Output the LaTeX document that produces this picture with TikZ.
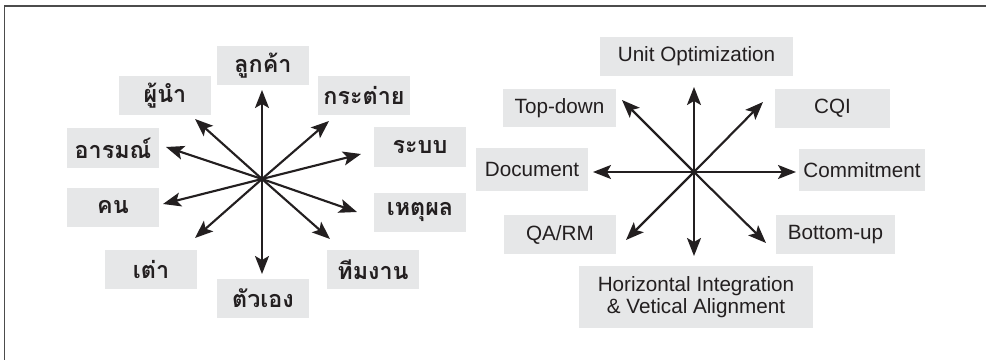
\documentclass[tikz,border=0pt]{standalone}
\usepackage{fontspec}
\setmainfont{Liberation Sans}
\newfontfamily\thaifont[Script=Thai]{Loma}
\usetikzlibrary{arrows.meta}
\definecolor{boxgray}{HTML}{E6E7E8}
\definecolor{ink}{HTML}{231F20}
\tikzset{
  lbl/.style={fill=boxgray, inner sep=0pt, text=ink, align=center, font=\fontsize{15.5pt}{18pt}\selectfont},
  thlbl/.style={lbl, minimum width=69pt, minimum height=29.25pt, font=\thaifont\bfseries\fontsize{17.5pt}{18pt}\selectfont},
  spoke/.style={draw=ink, line width=1.6pt, -{Stealth[length=13.5pt, width=10.5pt, inset=3pt]}},
  frameline/.style={draw=black!70, line width=1.4pt}
}
\begin{document}
\begin{tikzpicture}[x=0.75pt, y=-0.75pt]
\useasboundingbox (0,0) rectangle (986,360);
% frame (top and left only)
\coordinate (fTL) at (4.5,6);
\coordinate (fTR) at (986,6);
\coordinate (fBL) at (4.5,360);
\draw[frameline] (fBL) -- (fTL) -- (fTR);

% ---------- left wheel ----------
\coordinate (LC) at (262,179);
\node[thlbl] (t1) at (263,65.5) {ลูกค้า};
\node[thlbl] (t2) at (165,95.5) {ผู้นำ};
\node[thlbl] (t3) at (364,95.5) {กระต่าย};
\node[thlbl] (t4) at (113,148) {อารมณ์};
\node[thlbl] (t5) at (420,147) {ระบบ};
\node[thlbl] (t6) at (113,207) {คน};
\node[thlbl] (t7) at (420,212) {เหตุผล};
\node[thlbl] (t8) at (151,269.5) {เต่า};
\node[thlbl] (t9) at (373,269.5) {ทีมงาน};
\node[thlbl] (t10) at (263,298.5) {ตัวเอง};

\coordinate (a1) at (262,90);
\coordinate (a2) at (195,119);
\coordinate (a3) at (329,121);
\coordinate (a4) at (166,147);
\coordinate (a5) at (361,154);
\coordinate (a6) at (163,204);
\coordinate (a7) at (357,212);
\coordinate (a8) at (195,238);
\coordinate (a9) at (330,239);
\coordinate (a10) at (262,274);
\foreach \i in {1,...,10} {\draw[spoke] (LC) -- (a\i);}

% ---------- right wheel ----------
\coordinate (RC) at (694,172);
\node[lbl, minimum width=144.75pt, minimum height=29.25pt] (r1) at (696.5,56.5) {Unit Optimization};
\node[lbl, minimum width=84.75pt, minimum height=28.5pt] (r2) at (559.5,108) {Top-down};
\node[lbl, minimum width=86.25pt, minimum height=29.25pt] (r3) at (832.5,108.5) {CQI};
\node[lbl, minimum width=84pt, minimum height=32.25pt] (r4) at (532,169.5) {Document};
\node[lbl, minimum width=94.5pt, minimum height=31.5pt] (r5) at (862,170) {Commitment};
\node[lbl, minimum width=84pt, minimum height=29.25pt] (r6) at (560,234.5) {QA/RM};
\node[lbl, minimum width=89.25pt, minimum height=29.25pt] (r7) at (835.5,234.5) {Bottom-up};
\node[lbl, minimum width=175.5pt, minimum height=46.5pt, font=\fontsize{15.5pt}{17pt}\selectfont] (r8) at (696,297) {Horizontal Integration\\\& Vetical Alignment};

\coordinate (b1) at (694,87);
\coordinate (b2) at (622,100);
\coordinate (b3) at (763,102);
\coordinate (b4) at (593,172);
\coordinate (b5) at (796,172);
\coordinate (b6) at (626,240);
\coordinate (b7) at (766,243);
\coordinate (b8) at (694,256);
\foreach \i in {1,...,8} {\draw[spoke] (RC) -- (b\i);}
\end{tikzpicture}
\end{document}
